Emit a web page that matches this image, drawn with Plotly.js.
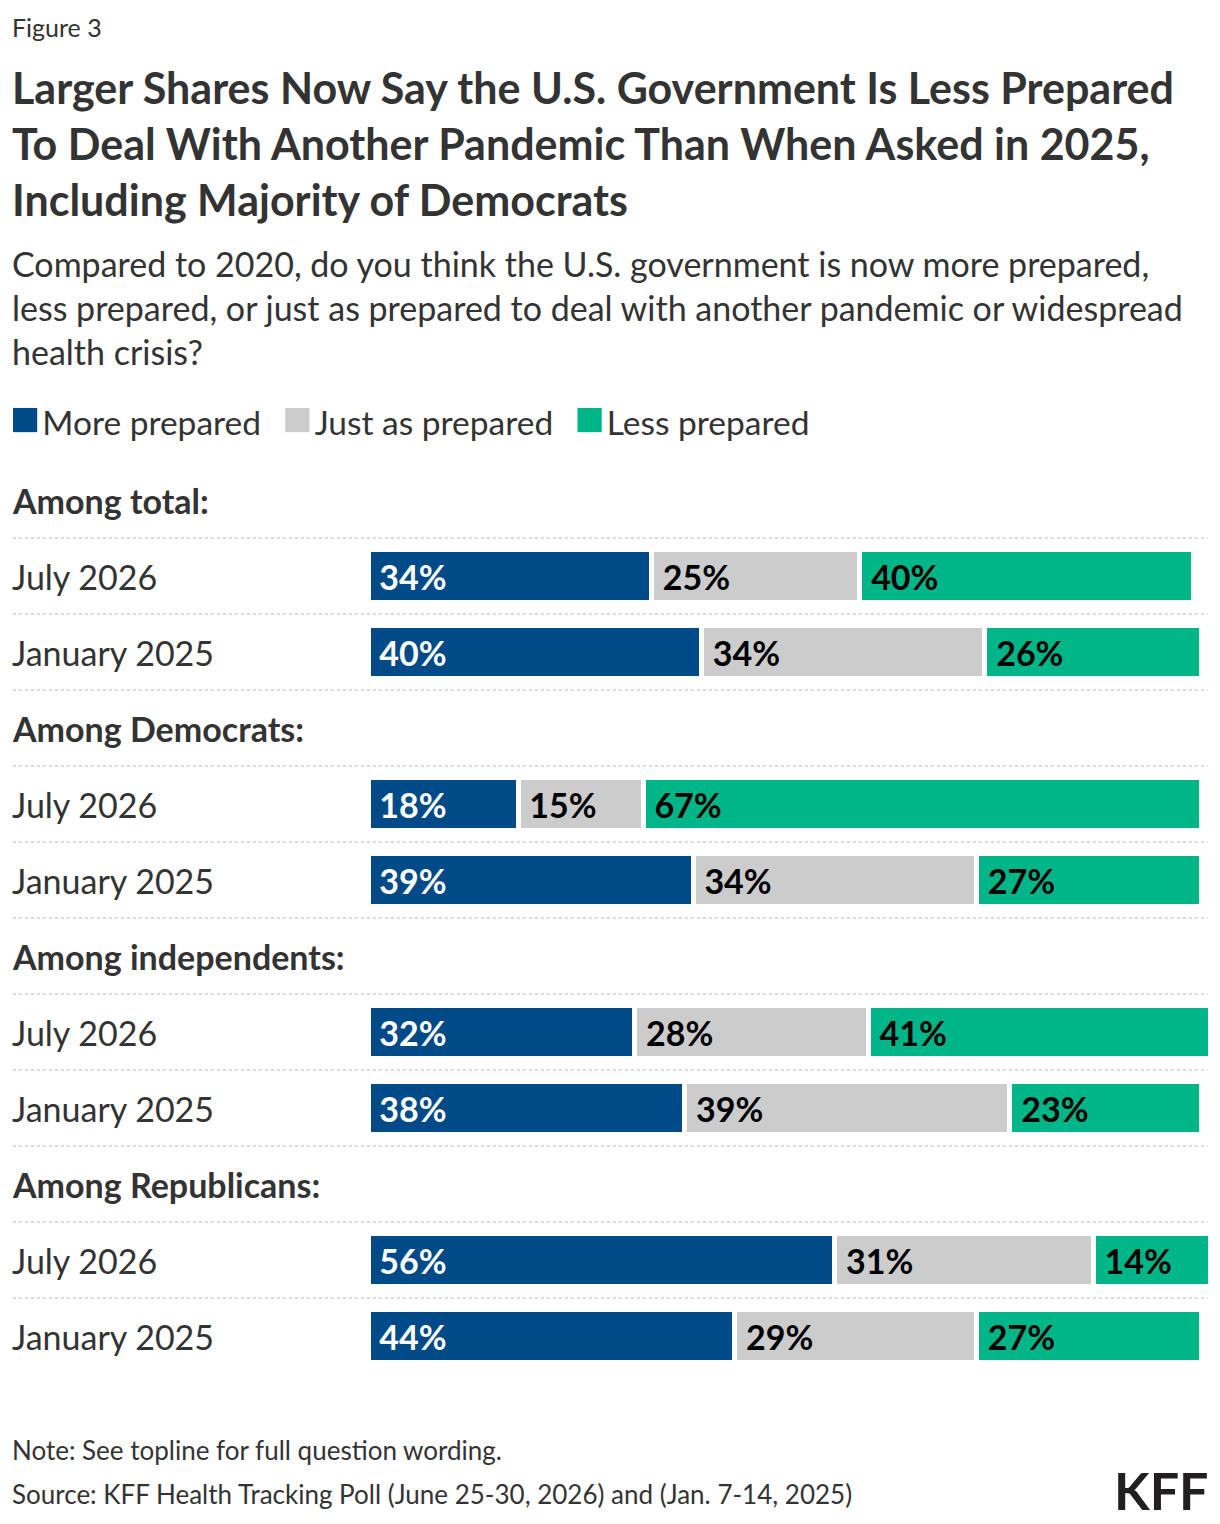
<!DOCTYPE html>
<html>
<head>
<meta charset="utf-8">
<script src="https://cdn.plot.ly/plotly-3.0.1.min.js"></script>
<style>
  body { margin: 0; background: #fff; }
  #chart { width: 1220px; height: 1524px; }
</style>
</head>
<body>
<div id="chart"></div>
<script>
// groups and rows, top to bottom
var groups = ['Among total:', 'Among Democrats:', 'Among independents:', 'Among Republicans:']
var periods = ['July 2026', 'January 2025']

var seriesNames = ['More prepared', 'Just as prepared', 'Less prepared']
var seriesColors = ['#004a87', '#cccccc', '#00b588']
var textColors = ['#ffffff', '#000000', '#000000']

// one value per row: total (Jul, Jan), Dem, Ind, Rep
var morePrepared = [34, 40, 18, 39, 32, 38, 56, 44]
var justAsPrepared = [25, 34, 15, 34, 28, 39, 31, 29]
var lessPrepared = [40, 26, 67, 27, 41, 23, 14, 27]

var FONT = 'Lato, "Noto Sans", sans-serif'
var DARK = '#333333'

// category slots: header row, then the two period rows
var cats = []
var catLabels = []
var rowCats = []
groups.forEach(function (g, gi) {
    cats.push('h' + gi)
    catLabels.push({ text: '<b>' + g + '</b>', header: true })
    periods.forEach(function (p, pi) {
        var id = 'r' + gi + '_' + pi
        cats.push(id)
        rowCats.push(id)
        catLabels.push({ text: p, header: false })
    })
})

var allValues = [morePrepared, justAsPrepared, lessPrepared]
var traces = allValues.map(function (vals, si) {
    return {
        type: 'bar',
        orientation: 'h',
        name: seriesNames[si],
        y: rowCats,
        x: vals,
        marker: { color: seriesColors[si], line: { color: '#ffffff', width: 5 } },
        text: vals.map(function (v) { return '\u00a0' + v + '%' }),
        textposition: 'inside',
        insidetextanchor: 'start',
        textangle: 0,
        textfont: { family: FONT, size: 34, color: textColors[si], weight: 'bold' },
        constraintext: 'none',
        hoverinfo: 'skip'
    }
})

var L = 367.5, W = 843
var leftPaper = (12 - L) / W
var rightPaper = (1208 - L) / W

var annotations = []
cats.forEach(function (c, i) {
    annotations.push({
        xref: 'paper', yref: 'y', x: leftPaper, y: c, xshift: -3,
        xanchor: 'left', yanchor: 'middle', showarrow: false,
        text: catLabels[i].text,
        font: { family: FONT, size: 34, color: DARK }
    })
})

// legend drawn as text
var legendText = seriesNames.map(function (n, i) {
    return '<span style="color:' + seriesColors[i] + ';font-size:50px">\u25A0</span>\u200a' + n
}).join('  \u2009')

annotations.push(
    { xref: 'paper', yref: 'paper', x: leftPaper, y: 1, yshift: 462 - 416, xshift: -5,
      xanchor: 'left', yanchor: 'middle', showarrow: false,
      text: legendText, font: { family: FONT, size: 33.5, color: DARK } },
    { xref: 'paper', yref: 'paper', x: leftPaper, y: 1, yshift: 462 - 27, xshift: -3,
      xanchor: 'left', yanchor: 'middle', showarrow: false,
      text: 'Figure 3', font: { family: FONT, size: 25, color: DARK } },
    { xref: 'paper', yref: 'paper', x: leftPaper, y: 1, yshift: 462 - 241, xshift: -3,
      xanchor: 'left', yanchor: 'top', showarrow: false, align: 'left',
      text: 'Compared to 2020, do you think the U.S. government is now more prepared,<br>' +
            'less prepared, or just as prepared to deal with another pandemic or widespread<br>' +
            'health crisis?',
      font: { family: FONT, size: 34, color: DARK } },
    { xref: 'paper', yref: 'paper', x: leftPaper, y: 0, yshift: 1374 - 1450, xshift: -3,
      xanchor: 'left', yanchor: 'middle', showarrow: false,
      text: 'Note: See topline for full question wording.',
      font: { family: FONT, size: 26, color: DARK } },
    { xref: 'paper', yref: 'paper', x: leftPaper, y: 0, yshift: 1374 - 1494, xshift: -3,
      xanchor: 'left', yanchor: 'middle', showarrow: false,
      text: 'Source: KFF Health Tracking Poll (June 25-30, 2026) and (Jan. 7-14, 2025)',
      font: { family: FONT, size: 26, color: DARK } },
    { xref: 'paper', yref: 'paper', x: rightPaper, y: 0, yshift: 1374 - 1490, xshift: 3,
      xanchor: 'right', yanchor: 'middle', showarrow: false,
      text: '<b>KFF</b>',
      font: { family: FONT, size: 52, color: '#231f20', weight: 900 } }
)

// dotted separators between every slot
var shapes = []
for (var i = 0; i < cats.length - 1; i++) {
    shapes.push({
        type: 'line', xref: 'paper', yref: 'y',
        x0: leftPaper, x1: rightPaper, y0: i + 0.5, y1: i + 0.5,
        line: { color: '#cfcfcf', width: 1.5, dash: 'dot' }
    })
}

var layout = {
    width: 1220,
    height: 1524,
    margin: { l: L, r: 1220 - L - W, t: 462, b: 150 },
    paper_bgcolor: '#ffffff',
    plot_bgcolor: '#ffffff',
    barmode: 'stack',
    bargap: 0.29,
    showlegend: false,
    title: {
        text: '<b>Larger Shares Now Say the U.S. Government Is Less Prepared<br>' +
              'To Deal With Another Pandemic Than When Asked in 2025,<br>' +
              'Including Majority of Democrats</b>',
        x: 12 / 1220, xanchor: 'left', xref: 'container',
        y: 1 - 104 / 1524, yanchor: 'top', yref: 'container',
        font: { family: FONT, size: 43, color: DARK }
    },
    xaxis: { range: [0, 101], visible: false, fixedrange: true },
    yaxis: {
        type: 'category', categoryorder: 'array', categoryarray: cats,
        range: [cats.length - 0.5, -0.5],
        showticklabels: false, showgrid: false, zeroline: false, fixedrange: true
    },
    annotations: annotations,
    shapes: shapes
}

Plotly.newPlot('chart', traces, layout, { displayModeBar: false, staticPlot: true })
</script>
</body>
</html>
